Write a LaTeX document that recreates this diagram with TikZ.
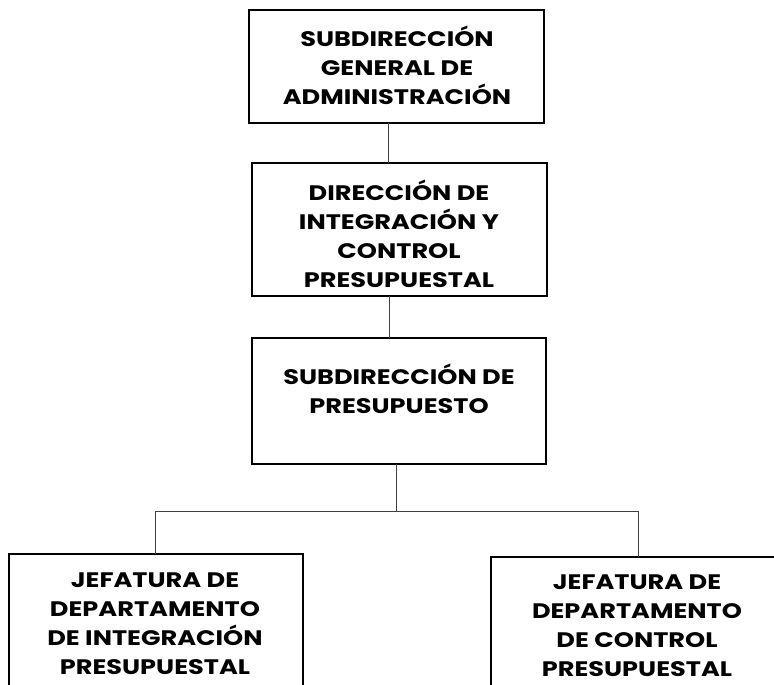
\documentclass[tikz,border=0pt]{standalone}
\usepackage{fontspec}
\setmainfont{Poppins}[BoldFont={Poppins Bold},BoldFeatures={FakeStretch=1.22}]
\begin{document}
\begin{tikzpicture}[x=1pt,y=-1pt,
  box/.style={draw=black,line width=1.4pt,fill=white},
  conn/.style={draw=black!75,line width=1pt},
  lbl/.style={align=center,font=\fontsize{21}{29}\selectfont\bfseries,inner sep=0pt}]
\useasboundingbox (0,0) rectangle (774,685);
\begin{scope}
\clip (0,0) rectangle (774,685);
% boxes
\draw[box] (249,10) rectangle (544,123);
\node[lbl] (t1) at (397,65) {SUBDIRECCIÓN\\GENERAL DE\\ADMINISTRACIÓN};
\draw[box] (252,163) rectangle (547,296);
\node[lbl] (t2) at (399,234) {DIRECCIÓN DE\\INTEGRACIÓN Y\\CONTROL\\PRESUPUESTAL};
\draw[box] (252,338) rectangle (546,464);
\node[lbl] (t3) at (399,389) {SUBDIRECCIÓN DE\\PRESUPUESTO};
\draw[box] (9,554) rectangle (303,720);
\node[lbl] (t4) at (155,624) {JEFATURA DE\\DEPARTAMENTO\\DE INTEGRACIÓN\\PRESUPUESTAL};
\draw[box] (491,557) rectangle (800,720);
\node[lbl] (t5) at (637,626) {JEFATURA DE\\DEPARTAMENTO\\DE CONTROL\\PRESUPUESTAL};
\end{scope}
\coordinate (a1) at (388,123);
\coordinate (a2) at (388,163);
\coordinate (c1) at (389,296);
\coordinate (c2) at (389,338);
\coordinate (d1) at (396,464);
\coordinate (d2) at (396,511);
\coordinate (dl) at (155,511);
\coordinate (dr) at (638,511);
\coordinate (el) at (155,554);
\coordinate (er) at (638,557);
\draw[conn] (a1) -- (a2);
\draw[conn] (c1) -- (c2);
\draw[conn] (d1) -- (d2);
\draw[conn] (el) -- (dl) -- (dr) -- (er);
\end{tikzpicture}
\end{document}
